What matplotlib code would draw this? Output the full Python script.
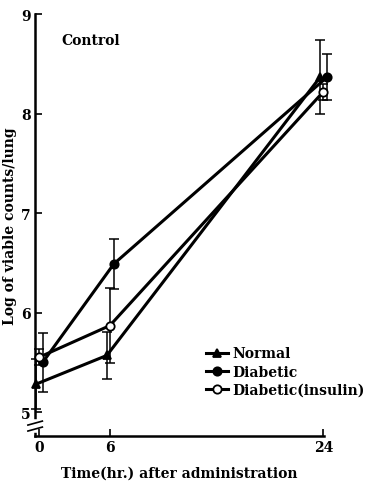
import matplotlib
matplotlib.use("Agg")
import matplotlib.pyplot as plt
import matplotlib.transforms as mtrans

time_hr = [0, 6, 24]
normal = [5.28, 5.57, 8.37]
normal_err = [0.25, 0.24, 0.37]
diabetic = [5.50, 6.49, 8.37]
diabetic_err = [0.30, 0.25, 0.23]
insulin = [5.55, 5.87, 8.22]
insulin_err = [0.08, 0.38, 0.08]
series_names = ["Normal", "Diabetic", "Diabetic(insulin)"]
yticks = [5, 6, 7, 8, 9]
xticks = [0, 6, 24]

plt.rcParams['font.family'] = ['DejaVu Serif']
plt.rcParams['font.weight'] = 'bold'

fig = plt.figure(figsize=(3.66, 4.89), dpi=100)
ax = fig.add_axes([0.096, 0.1063, 0.789, 0.8627])

styles = [
    dict(marker='^', mfc='black', dx=-3),
    dict(marker='o', mfc='black', dx=4),
    dict(marker='o', mfc='white', dx=0),
]
data = [(normal, normal_err), (diabetic, diabetic_err), (insulin, insulin_err)]
for (vals, errs), st, name in zip(data, styles, series_names):
    tr = ax.transData + mtrans.ScaledTranslation(st['dx'] / 100, 0, fig.dpi_scale_trans)
    eb = ax.errorbar(time_hr, vals, yerr=errs, fmt='none', ecolor='black',
                     elinewidth=1.1, capsize=3.5, capthick=1.1, transform=tr, zorder=2)
    for art in eb.get_children():
        art.set_clip_on(False)
    ax.plot(time_hr, vals, color='black', lw=2.2, marker=st['marker'],
            ms=6, mfc=st['mfc'], mec='black', mew=1.3, label=name,
            transform=tr, zorder=3, clip_on=False)

ax.set_xlim(-0.3, 24.05)
ax.set_ylim(4.76, 9.0)
ax.set_xticks(xticks)
ax.set_yticks(yticks)
ax.set_xticklabels([str(t) for t in xticks], fontsize=10, fontweight='bold')
ax.set_yticklabels([str(t) for t in yticks], fontsize=10, fontweight='bold')
ax.tick_params(direction='in', length=5, width=1.2, pad=3)
ax.spines['top'].set_visible(False)
ax.spines['right'].set_visible(False)
for s in ['left', 'bottom']:
    ax.spines[s].set_linewidth(1.8)

# axis break marks on y axis
bt = mtrans.blended_transform_factory(ax.transAxes, ax.transData)
ax.plot([0, 0], [4.82, 4.9], color='white', lw=4, transform=bt, clip_on=False, zorder=5)
for yb in [4.83, 4.89]:
    ax.plot([-0.025, 0.025], [yb - 0.02, yb + 0.02], color='black', lw=1.2,
            transform=bt, clip_on=False, zorder=6)

ax.text(0.09, 0.955, "Control", transform=ax.transAxes, fontsize=10,
        fontweight='bold', va='top', ha='left')
ax.set_ylabel("Log of viable counts/lung", fontsize=10, fontweight='bold', labelpad=3)
ax.set_xlabel("Time(hr.) after administration", fontsize=10, fontweight='bold', labelpad=8)

leg = ax.legend(loc='lower right', bbox_to_anchor=(1.16, 0.08), frameon=False,
                fontsize=10, handlelength=1.6, handletextpad=0.3, labelspacing=0.3,
                borderaxespad=0)

fig.savefig("out.png", dpi=100)
